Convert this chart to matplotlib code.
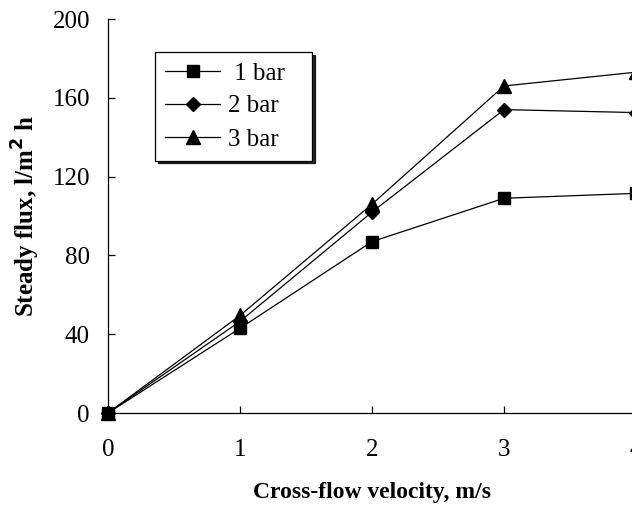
import matplotlib
matplotlib.use('Agg')
from matplotlib import pyplot as plt

velocity = [0, 1, 2, 3, 4]
flux_1bar = [0, 43, 87, 109, 111.5]
flux_2bar = [0, 46.5, 102, 154, 152.5]
flux_3bar = [0, 49.5, 106, 166, 173]
labels = [' 1 bar', '2 bar', '3 bar']

plt.rcParams['font.family'] = 'Liberation Serif'

fig = plt.figure(figsize=(6.32, 5.08), dpi=100)
# axes run off the right edge like in the original scan
ax = fig.add_axes([108/632, 95/508, 528/632, 394/508])

ax.plot(velocity, flux_1bar, '-s', color='k', lw=0.9, ms=8.5, label=labels[0], clip_on=False)
ax.plot(velocity, flux_2bar, '-D', color='k', lw=0.9, ms=7, label=labels[1], clip_on=False)
ax.plot(velocity, flux_3bar, '-^', color='k', lw=0.9, ms=9.5, label=labels[2], clip_on=False)

ax.set_xlim(0, 4)
ax.set_ylim(0, 200)
ax.set_xticks([0, 1, 2, 3, 4])
ax.set_yticks([0, 40, 80, 120, 160, 200])
ax.spines['top'].set_visible(False)
ax.spines['right'].set_visible(False)
ax.spines['left'].set_linewidth(0.9)
ax.spines['bottom'].set_linewidth(0.9)
ax.tick_params(direction='in', length=5, width=0.9, labelsize=18)
ax.tick_params(axis='x', pad=19)
ax.tick_params(axis='y', pad=13)

ax.set_xlabel('Cross-flow velocity, m/s', fontsize=17, fontweight='bold')
ax.set_ylabel('Steady flux, l/m$^{\\mathbf{2}}$ h', fontsize=18, fontweight='bold')
ax.xaxis.set_label_coords(0.5, -0.176)
ax.yaxis.set_label_coords(-0.125, 0.5)

# legend box: frame ~155..312 px wide, top at 52 px
leg = ax.legend(loc='upper left', bbox_to_anchor=(47/528, 361/394, 157/528, 0.0),
                mode='expand', borderaxespad=0,
                fancybox=False, shadow={'color': 'k', 'alpha': 0.85}, edgecolor='k', fontsize=18,
                handlelength=2.2, handletextpad=0.3, labelspacing=0.42, borderpad=0.4)
leg.get_frame().set_linewidth(0.9)

plt.savefig('out.png', dpi=100)
plt.close()
